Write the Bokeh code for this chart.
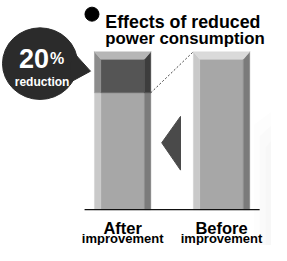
from bokeh.plotting import figure
from bokeh.models import Range1d, ColumnDataSource
from bokeh.core.properties import value
from bokeh.embed import file_html
from bokeh.resources import INLINE

# ---------------- data ----------------
categories = ["After", "Before"]
category_sub = ["improvement", "improvement"]
remaining = [74, 100]        # light part of each bar (% of before)
reduced = [26, 0]            # dark (reduced) part of each bar
reduction_number = "20"
reduction_unit = "%"
reduction_word = "reduction"
title_lines = ["Effects of reduced", "power consumption"]

# ---------------- geometry helpers (reference pixel -> data) ----------------
W, H = 271, 245
PX_X, PX_Y = 100.0, 1.677
X0_PX, Y0_PX = 125.5, 225.0


def fx(px):
    return (px - X0_PX) / PX_X


def fy(py):
    return (Y0_PX - py) / PX_Y


FONT = value("Liberation Sans")

p = figure(width=W, height=H,
           x_range=Range1d(fx(2), fx(276)),
           y_range=Range1d(fy(263), fy(3)),
           output_backend="svg", toolbar_location=None, min_border=0)
p.axis.visible = False
p.grid.visible = False
p.outline_line_color = None
p.background_fill_color = "white"
p.border_fill_color = "white"

# faint background shading at the right edge
for i, c in enumerate(["#fdfdfd", "#fafafa", "#f7f7f7"]):
    x0 = fx(258 + i * 6)
    p.patch([x0, fx(290), fx(290), x0], [fy(263), fy(263), fy(110 + i * 12), fy(135 + i * 12)],
            fill_color=c, line_color=None)

# ---------------- bevelled bars ----------------
bar_w = 0.57
bev_x = 0.065
bev_y = 8 / PX_Y
light = ("#c9c9c9", "#a7a7a7", "#7b7b7b")
dark = ("#8c8c8c", "#555555", "#3d3d3d")
top_cols = ["#b6b6b6", "#dadada"]

xs, ys, cols = [], [], []
for i, cat in enumerate(categories):
    x0, x1 = i - bar_w / 2, i + bar_w / 2
    top = remaining[i] + reduced[i]
    segs = [(0, remaining[i], light)]
    if reduced[i] > 0:
        segs.append((remaining[i], top, dark))
    for (s, e, (cl, cc, cr)) in segs:
        dt = bev_y if e == top else 0
        xs.append([x0 + bev_x, x1 - bev_x, x1 - bev_x, x0 + bev_x]); ys.append([s, s, e - dt, e - dt]); cols.append(cc)
        xs.append([x0, x0, x0 + bev_x, x0 + bev_x]); ys.append([s, e, e - dt, s]); cols.append(cl)
        xs.append([x1, x1, x1 - bev_x, x1 - bev_x]); ys.append([s, e, e - dt, s]); cols.append(cr)
    xs.append([x0, x1, x1 - bev_x, x0 + bev_x]); ys.append([top, top, top - bev_y, top - bev_y]); cols.append(top_cols[i])

p.patches(xs="xs", ys="ys", fill_color="c", line_color="c", line_width=0.4,
          source=ColumnDataSource(dict(xs=xs, ys=ys, c=cols)))

# dashed connector from reduced boundary to the "before" bar top
p.line([0 + bar_w / 2, 1 - bar_w / 2], [remaining[0], remaining[1] + reduced[1]],
       line_color="#444444", line_width=1, line_dash="2 2")

# baseline
p.line([fx(87), fx(264)], [0, 0], line_color="#111111", line_width=1.3)

# left-pointing arrow between bars
p.patch([fx(165), fx(184), fx(184)], [fy(154), fy(126), fy(183)], fill_color="#4a4a4a", line_color="#4a4a4a")

# ---------------- speech bubble ----------------
p.ellipse(x=[fx(42)], y=[fy(70)], width=76 / PX_X, height=76 / PX_Y,
          fill_color="#2b2b2b", line_color="#2b2b2b")
p.patch([fx(74), fx(93), fx(72)], [fy(56), fy(78), fy(90)], fill_color="#2b2b2b", line_color="#2b2b2b")

p.text(x=[fx(51)], y=[fy(65)], text=[reduction_number], text_font=FONT, text_font_style="bold",
       text_font_size="27px", text_color="white", text_align="right", text_baseline="alphabetic")
p.text(x=[fx(52)], y=[fy(65)], text=[reduction_unit], text_font=FONT, text_font_style="bold",
       text_font_size="16px", text_color="white", text_align="left", text_baseline="alphabetic")
p.text(x=[fx(44)], y=[fy(90)], text=[reduction_word], text_font=FONT, text_font_style="bold",
       text_font_size="12px", text_color="white", text_align="center", text_baseline="alphabetic")

# ---------------- title ----------------
p.scatter(x=[fx(94.5)], y=[fy(17.5)], marker="circle", size=14, fill_color="black", line_color="black")
p.text(x=[fx(108)], y=[fy(26)], text=[title_lines[0]], text_font=FONT, text_font_style="bold",
       text_font_size="17.8px", text_color="black", text_align="left", text_baseline="alphabetic")
p.text(x=[fx(108)], y=[fy(43)], text=[title_lines[1]], text_font=FONT, text_font_style="bold",
       text_font_size="16.8px", text_color="black", text_align="left", text_baseline="alphabetic")

# ---------------- category labels ----------------
p.text(x=list(range(len(categories))), y=[fy(244)] * len(categories), text=categories, text_font=FONT,
       text_font_style="bold", text_font_size="16.5px", text_color="black", text_align="center",
       text_baseline="alphabetic")
p.text(x=list(range(len(categories))), y=[fy(255.5)] * len(categories), text=category_sub, text_font=FONT,
       text_font_style="bold", text_font_size="13px", text_color="black", text_align="center",
       text_baseline="alphabetic")

open("out.html", "w").write(file_html(p, INLINE))
